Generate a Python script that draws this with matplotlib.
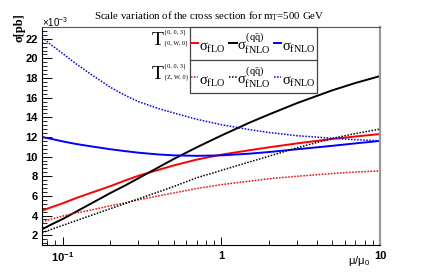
import matplotlib
matplotlib.use("Agg")
import matplotlib.pyplot as plt
from matplotlib.lines import Line2D
from matplotlib.patches import Rectangle
from matplotlib.ticker import FixedLocator, NullFormatter

plt.rcParams['mathtext.fontset'] = 'custom'
plt.rcParams['mathtext.rm'] = 'Liberation Serif'
plt.rcParams['mathtext.it'] = 'Liberation Serif'
plt.rcParams['mathtext.bf'] = 'Liberation Serif:bold'

# scale ratio mu/mu0
mu = [0.074, 0.085, 0.1, 0.12, 0.15, 0.2, 0.25, 0.3, 0.4, 0.5, 0.7, 1,
      1.5, 2, 3, 5, 7, 10]

# cross sections in units of 1e-3 pb
# T^{0,0,3}_{0,W,0} (solid)
flo_w = [4.5, 4.85, 5.25, 5.75, 6.3, 7.0, 7.6, 8.05, 8.65, 9.1, 9.7, 10.2,
         10.65, 10.95, 11.35, 11.8, 12.05, 12.3]
fnlo_qq_w = [2.6, 3.1, 3.65, 4.35, 5.2, 6.3, 7.1, 7.8, 8.9, 9.75, 10.95, 12.15,
             13.45, 14.3, 15.45, 16.75, 17.5, 18.2]
fnlo_w = [12.0, 11.8, 11.55, 11.3, 11.05, 10.75, 10.55, 10.4, 10.22, 10.13, 10.08, 10.13,
          10.3, 10.47, 10.75, 11.1, 11.35, 11.6]
# T^{0,0,3}_{Z,W,0} (dotted)
flo_zw = [3.35, 3.65, 3.95, 4.25, 4.55, 5.0, 5.3, 5.6, 6.0, 6.3, 6.75, 7.15,
          7.5, 7.75, 8.0, 8.28, 8.43, 8.55]
fnlo_qq_zw = [2.25, 2.6, 3.0, 3.45, 4.0, 4.7, 5.25, 5.7, 6.4, 6.95, 7.85, 8.6,
              9.45, 10.05, 10.9, 11.85, 12.35, 12.8]
fnlo_zw = [22.15, 21.35, 20.5, 19.5, 18.4, 17.05, 16.2, 15.6, 14.9, 14.45, 13.8, 13.25,
           12.75, 12.45, 12.13, 11.87, 11.73, 11.6]

W, H = 422, 273
fig = plt.figure(figsize=(W / 100, H / 100), dpi=100)


def px(x, y):
    """pixel position -> figure fraction"""
    return x / W, 1 - y / H


ax = fig.add_axes([42 / W, 1 - 245 / H, (380 - 42) / W, (245 - 27) / H])

dot = (0, (1, 1))
ax.plot(mu, flo_w, color='#ff0000', lw=1.4)
ax.plot(mu, fnlo_qq_w, color='black', lw=1.4)
ax.plot(mu, fnlo_w, color='#0000ff', lw=1.4)
ax.plot(mu, flo_zw, color='#ff0000', lw=1.1, ls=dot)
ax.plot(mu, fnlo_qq_zw, color='black', lw=1.1, ls=dot)
ax.plot(mu, fnlo_zw, color='#0000ff', lw=1.1, ls=dot)

ax.set_xscale('log')
ax.set_xlim(0.074, 10)
ax.set_ylim(1.0, 23.2)

tick_font = dict(family='Liberation Sans', weight='bold', size=8)
ax.set_xticks([0.1, 1, 10])
ax.set_xticklabels([r'$\mathdefault{10^{-1}}$', '1', '10'], fontdict=tick_font)
minors = [m * d for d in (0.01, 0.1, 1) for m in range(2, 10)]
ax.xaxis.set_minor_locator(FixedLocator(minors))
ax.xaxis.set_minor_formatter(NullFormatter())
yt = list(range(2, 23, 2))
ax.set_yticks(yt)
ax.set_yticklabels([str(v) for v in yt], fontdict=tick_font)
ax.yaxis.set_minor_locator(FixedLocator([1.2 + 0.4 * i for i in range(56)]))

ax.tick_params(which='both', direction='in', top=False, right=False)
ax.tick_params(axis='y', which='major', length=7, width=0.7, pad=3)
ax.tick_params(axis='y', which='minor', length=3.5, width=0.6)
ax.tick_params(axis='x', which='major', length=6, width=0.7, pad=4)
ax.tick_params(axis='x', which='minor', length=3.5, width=0.6)

for s in ('left', 'bottom'):
    ax.spines[s].set_linewidth(0.8)
ax.spines['top'].set_color('#555555')
ax.spines['top'].set_linewidth(0.8)
ax.spines['right'].set_color('#999999')
ax.spines['right'].set_linewidth(1.6)

# titles and axis labels
fig.text(*px(209.5, 16.5), 'Scale variation of the cross section for m$_\\mathrm{T}$=500 GeV',
         family='Liberation Serif', size=7.8, ha='center', va='center')
fig.text(*px(42, 22.5), r'$\mathdefault{\times10^{-3}}$', family='Liberation Sans',
         size=7, ha='left', va='center')
fig.text(*px(20, 13), 'σ[pb]', family='Liberation Serif', weight='bold', size=9,
         rotation=90, ha='center', va='top')
fig.text(*px(370, 264), r'$\mathdefault{μ/μ_{0}}$', family='Liberation Sans', size=8,
         ha='right', va='baseline')

# legend box
fig.add_artist(Rectangle(px(190, 93), 127 / W, 66 / H, transform=fig.transFigure,
                         facecolor='white', edgecolor='#444444', lw=0.9))
fig.add_artist(Line2D([190 / W, 317 / W], [1 - 60 / H, 1 - 60 / H],
                      transform=fig.transFigure, color='#444444', lw=0.9))

rows = [(45, '-', 1.4, '{0, W, 0}'), (79, dot, 1.1, '{Z, W, 0}')]
entries = [('#ff0000', 190.7, 198.3, r'$\sigma_{\mathrm{fLO}}$'),
           ('black', 229.3, 236.7, r'$\sigma^{(q\bar{q})}_{\mathrm{fNLO}}$'),
           ('#0000ff', 274, 281.3, r'$\sigma_{\mathrm{fNLO}}$')]
for yb, ls, lw, sub in rows:
    fig.text(*px(163.5, yb), 'T', family='Liberation Serif', size=14,
             ha='right', va='baseline')
    fig.text(*px(164, yb - 13), '{0, 0, 3}', family='Liberation Serif', size=4.5,
             ha='left', va='center')
    fig.text(*px(164, yb - 2), sub, family='Liberation Serif', size=4.5,
             ha='left', va='center')
    for col, x0, x1, label in entries:
        ly = 1 - (yb - 2) / H
        fig.add_artist(Line2D([x0 / W, x1 / W], [ly, ly], transform=fig.transFigure,
                              color=col, lw=lw, ls=ls))
        fig.text(*px(x1 + 0.5, yb + 5.5), label, size=10.5, ha='left', va='baseline')

fig.savefig('out.png', dpi=100)
